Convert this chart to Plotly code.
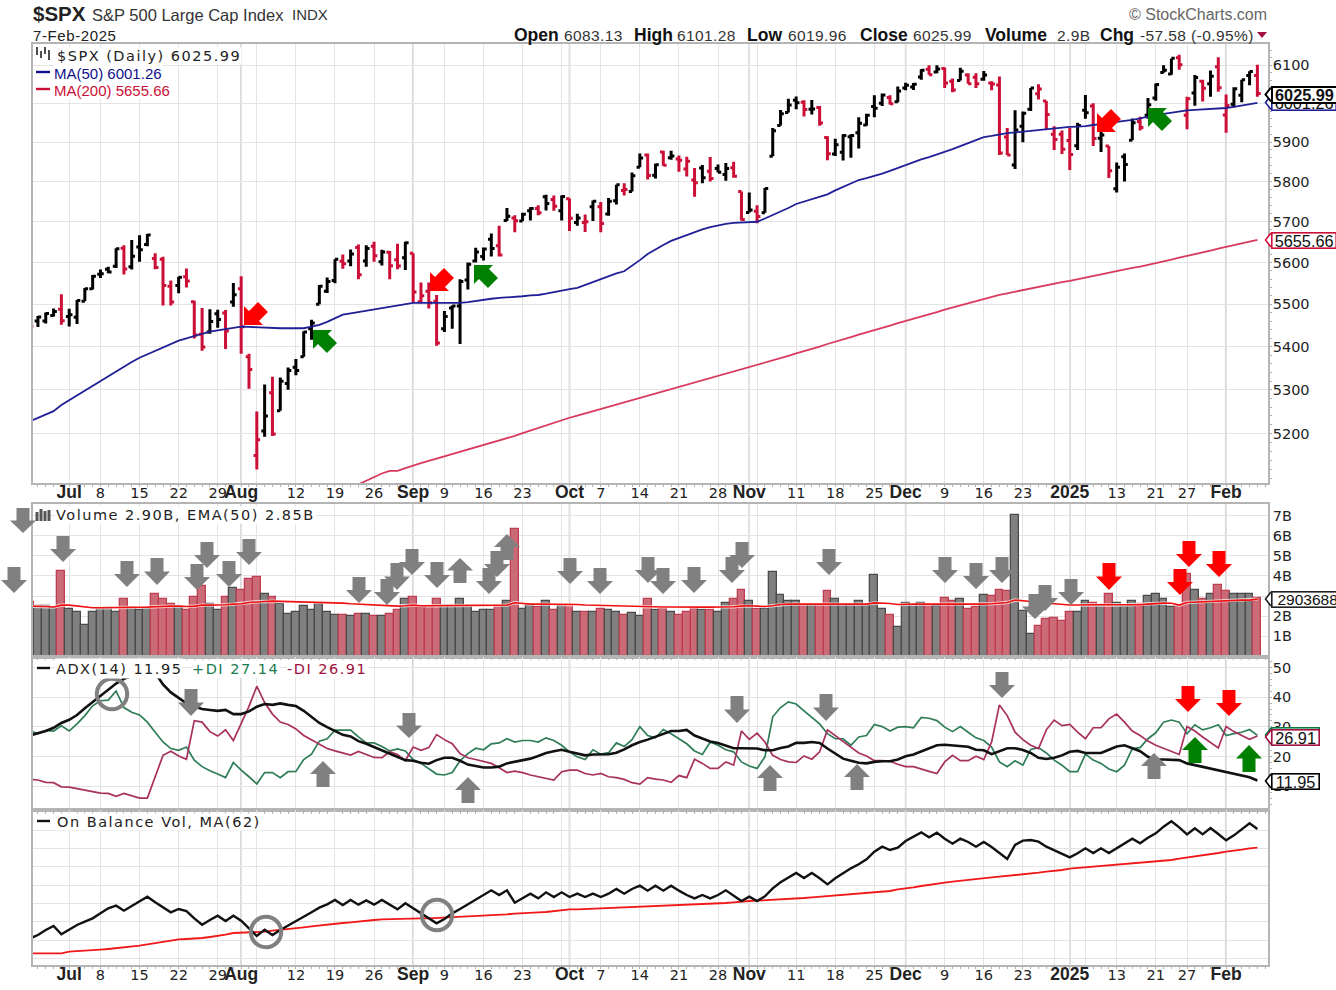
import plotly.graph_objects as go

W, H = 1336, 990
DAYS = list(range(-5, 153))

OPEN = [5459,5460,5460,5473,5488,5471,5469,5507,5537,5572,5584,5591,5635,5590,5638,5644,5610,5608,5543,5545,5566,5506,5429,5434,5477,5479,5505,5537,5376,5151,5206,5293,5252,5314,5352,5376,5442,5500,5531,5557,5603,5604,5637,5604,5640,5602,5625,5607,5612,5623,5506,5531,5507,5442,5491,5496,5558,5604,5615,5657,5641,5703,5709,5702,5727,5733,5762,5755,5727,5757,5698,5698,5737,5737,5719,5752,5778,5775,5836,5867,5816,5875,5860,5857,5832,5804,5834,5826,5833,5818,5835,5775,5723,5726,5722,5864,5943,5976,6008,6003,5985,5989,5912,5870,5874,5914,5924,5944,5992,6000,6015,6004,6040,6043,6069,6089,6082,6091,6058,6060,6074,6068,6063,6053,6048,5913,5842,5941,5985,6025,6006,5920,5920,5904,5891,5982,5993,5910,5890,5782,5863,5905,5953,5969,6014,6081,6077,6120,5969,6027,6058,6051,6096,5970,5998,6021,6073,6073]
HIGH = [5490,5472,5480,5490,5524,5489,5510,5539,5570,5583,5590,5635,5642,5655,5667,5670,5623,5614,5557,5566,5586,5508,5491,5488,5487,5486,5551,5567,5383,5250,5312,5330,5328,5351,5371,5436,5463,5546,5564,5608,5620,5632,5644,5642,5651,5631,5628,5646,5651,5623,5552,5552,5522,5484,5497,5560,5600,5636,5637,5671,5690,5734,5716,5722,5736,5741,5767,5765,5765,5758,5720,5718,5753,5749,5759,5792,5796,5823,5871,5871,5845,5878,5878,5866,5863,5834,5842,5862,5843,5847,5850,5775,5773,5741,5784,5936,5983,6012,6018,6008,6009,5993,5915,5909,5920,5920,5964,5973,6021,6026,6021,6044,6054,6053,6089,6100,6100,6094,6065,6093,6079,6079,6085,6058,6070,5936,5982,5979,6040,6050,6006,5941,5930,5936,5950,6022,6000,5928,5890,5848,5871,5961,5965,6014,6052,6100,6118,6128,6017,6074,6062,6086,6121,6023,6042,6062,6084,6101]
LOW = [5447,5446,5454,5471,5451,5447,5453,5507,5535,5563,5574,5587,5571,5583,5602,5640,5584,5497,5497,5526,5540,5419,5390,5430,5444,5394,5494,5383,5302,5120,5193,5195,5252,5300,5333,5376,5416,5500,5527,5550,5585,5591,5560,5590,5602,5593,5560,5584,5582,5504,5503,5490,5402,5434,5442,5406,5535,5600,5605,5615,5615,5702,5674,5702,5703,5716,5728,5727,5703,5677,5690,5675,5702,5674,5715,5743,5765,5775,5836,5805,5808,5840,5855,5825,5813,5762,5796,5800,5823,5802,5810,5703,5723,5696,5722,5864,5943,5976,5985,5966,5971,5942,5854,5865,5853,5860,5884,5942,5964,5993,5997,6003,6034,6035,6062,6075,6079,6040,6029,6060,6051,6040,6059,6034,5867,5867,5832,5900,5980,6010,5932,5880,5870,5829,5880,5960,5890,5875,5809,5773,5800,5905,5930,5960,6007,6080,6075,6088,5933,5994,6005,6017,6030,5924,5990,6003,6047,6017]
CLOSE = [5447.87,5469.30,5477.90,5482.87,5460.48,5475.09,5509.01,5537.02,5567.19,5572.85,5576.98,5633.91,5584.54,5615.35,5631.22,5667.20,5588.27,5544.59,5505.00,5564.41,5555.74,5427.13,5399.22,5459.10,5463.54,5436.44,5522.30,5446.68,5346.56,5186.33,5240.03,5199.50,5319.31,5344.16,5344.39,5434.43,5455.21,5543.22,5554.25,5608.25,5597.12,5620.85,5570.64,5634.61,5616.84,5625.80,5592.18,5591.96,5648.40,5528.93,5520.07,5503.41,5408.42,5471.05,5495.52,5554.13,5595.76,5626.02,5633.09,5634.58,5618.26,5713.64,5702.55,5718.57,5732.93,5722.26,5745.37,5738.17,5762.48,5708.75,5709.54,5699.94,5751.07,5695.94,5751.13,5792.04,5780.05,5815.03,5859.85,5815.26,5842.47,5841.47,5864.67,5853.98,5851.20,5797.42,5809.86,5808.12,5823.52,5832.92,5813.67,5705.45,5728.80,5712.69,5782.76,5929.04,5973.10,5995.54,6001.35,5983.99,5985.38,5949.17,5870.62,5893.62,5916.98,5917.11,5948.71,5969.34,5987.37,6021.63,5998.74,6032.38,6047.15,6049.88,6086.49,6075.11,6090.27,6052.85,6034.91,6084.19,6051.25,6051.09,6074.08,6050.61,5872.16,5867.08,5930.85,5974.07,6040.04,6037.59,5970.84,5906.94,5881.63,5868.55,5942.47,5975.38,5909.03,5918.25,5827.04,5836.22,5842.91,5949.91,5937.34,5996.66,6049.24,6086.37,6118.71,6101.24,6012.28,6067.70,6039.31,6071.17,6040.53,5994.57,6037.88,6061.48,6083.57,6025.99]
MA50 = [5228,5236,5243,5251,5265,5276,5287,5298,5310,5321,5332,5342,5353,5364,5374,5382,5390,5398,5406,5414,5419,5425,5430,5435,5438,5441,5444,5447,5446,5445,5444,5443,5443,5443,5443,5443,5447,5451,5458,5466,5475,5478,5481,5485,5488,5491,5494,5497,5500,5503,5503,5503,5503,5503,5503,5503,5505,5508,5510,5513,5515,5516,5518,5519,5521,5522,5525,5529,5532,5536,5539,5546,5553,5560,5567,5574,5579,5592,5606,5621,5633,5643,5653,5660,5668,5675,5681,5687,5691,5695,5697,5698,5699,5700,5708,5716,5724,5734,5744,5750,5755,5761,5768,5778,5787,5797,5804,5809,5814,5820,5827,5834,5843,5849,5856,5862,5868,5875,5882,5890,5897,5905,5913,5916,5920,5923,5925,5927,5929,5931,5933,5936,5938,5939,5940,5941,5944,5946,5949,5952,5954,5957,5961,5966,5970,5973,5976,5979,5982,5983,5984,5986,5987,5988,5991,5995,5998,6001.26]
MA200_DAYS = list(range(37, 153))
MA200 = [5087,5095,5103,5111,5117,5117,5123,5129,5134,5139,5144,5150,5155,5160,5164,5169,5174,5179,5184,5190,5195,5201,5207,5213,5219,5225,5230,5236,5241,5246,5251,5256,5261,5266,5271,5276,5281,5286,5291,5296,5301,5306,5311,5316,5321,5326,5331,5336,5341,5346,5351,5356,5362,5367,5373,5378,5384,5389,5395,5400,5406,5411,5417,5422,5428,5433,5439,5444,5449,5455,5460,5465,5471,5476,5481,5487,5492,5497,5503,5508,5513,5518,5522,5526,5530,5534,5538,5541,5545,5549,5553,5556,5560,5564,5568,5572,5576,5580,5584,5587,5590,5594,5598,5603,5607,5612,5616,5620,5625,5629,5634,5638,5642,5647,5651,5655.66]
VOLUME = [2.7,2.52,2.52,2.4,4.25,2.37,2.22,1.54,2.22,2.4,2.4,2.22,2.85,2.4,2.3,2.4,3.08,2.85,2.6,2.48,2.32,2.93,3.48,2.6,2.32,2.93,3.4,3.3,3.86,3.94,3.08,2.93,2.63,2.12,2.22,2.53,2.3,2.62,2.22,2.07,2.07,2.0,2.13,2.13,2.0,2.0,2.13,2.3,2.85,2.93,2.46,2.46,2.86,2.52,2.52,2.86,2.52,2.22,2.32,2.32,2.52,2.78,6.32,2.37,2.57,2.45,2.76,2.32,2.52,2.57,2.22,2.22,2.22,2.38,2.3,2.22,2.07,2.14,1.99,2.85,2.3,2.38,2.22,2.07,2.22,2.38,2.3,2.3,2.22,2.68,2.85,3.31,2.76,2.38,2.38,4.17,3.06,2.76,2.76,2.57,2.57,2.57,3.23,2.85,2.57,2.57,2.76,2.57,4.07,2.37,2.07,1.44,2.68,2.57,2.68,2.57,2.52,2.91,2.76,2.85,2.37,2.45,3.06,3.0,3.31,3.23,7.04,2.27,1.13,1.52,1.84,1.92,1.75,2.22,2.22,2.76,2.68,2.52,3.08,2.68,2.45,2.76,2.6,3.0,3.08,2.85,2.45,2.52,4.1,3.31,2.85,3.08,3.54,3.23,3.08,3.08,3.08,2.9]
EMA50 = [2.5,2.5,2.48,2.46,2.55,2.55,2.5,2.45,2.42,2.42,2.42,2.42,2.45,2.45,2.45,2.45,2.47,2.5,2.5,2.5,2.48,2.5,2.55,2.55,2.55,2.57,2.6,2.62,2.68,2.72,2.73,2.75,2.74,2.72,2.72,2.72,2.7,2.7,2.7,2.68,2.65,2.62,2.6,2.57,2.56,2.54,2.52,2.5,2.52,2.55,2.52,2.52,2.52,2.52,2.52,2.53,2.52,2.52,2.52,2.52,2.52,2.55,2.67,2.62,2.6,2.6,2.6,2.6,2.58,2.58,2.58,2.56,2.55,2.52,2.52,2.5,2.48,2.47,2.47,2.48,2.47,2.46,2.46,2.45,2.45,2.45,2.45,2.45,2.45,2.46,2.47,2.5,2.52,2.5,2.48,2.52,2.58,2.6,2.6,2.6,2.6,2.6,2.6,2.6,2.6,2.6,2.6,2.6,2.66,2.66,2.63,2.58,2.6,2.6,2.6,2.6,2.6,2.6,2.6,2.6,2.58,2.58,2.6,2.62,2.65,2.68,2.8,2.78,2.73,2.68,2.65,2.6,2.56,2.56,2.56,2.57,2.57,2.57,2.58,2.57,2.56,2.57,2.57,2.6,2.63,2.65,2.64,2.55,2.68,2.7,2.72,2.73,2.75,2.75,2.78,2.8,2.8,2.85]
ADX = [27.1,27.9,28.6,29.7,31.3,32.4,34.0,36.3,38.4,40.4,42.3,44.6,46.2,47.1,48.8,49.0,48.2,44.3,41.6,39.6,37.9,36.9,36.0,35.7,35.4,35.7,34.3,34.3,35.2,36.8,37.7,37.4,37.9,37.4,37.0,35.4,33.2,31.3,29.9,28.6,27.3,26.8,25.2,24.3,23.2,22.1,21.0,19.9,18.8,18.6,17.9,17.6,18.8,19.6,19.6,18.6,17.3,16.8,16.3,16.3,16.6,17.7,18.2,18.8,19.3,20.2,21.2,21.8,22.3,21.6,21.0,20.4,20.7,20.7,20.8,21.3,22.4,23.8,24.9,25.7,26.6,27.7,28.6,28.6,29.0,27.1,26.0,25.1,24.6,23.8,22.8,22.8,22.8,22.7,22.1,22.1,22.9,23.4,24.6,24.6,24.9,24.6,22.7,21.0,19.3,18.6,17.9,17.7,18.2,18.4,18.4,19.0,20.1,20.7,21.8,22.9,23.8,24.0,23.8,23.4,23.3,22.3,22.1,20.8,21.9,22.8,22.8,22.2,21.2,19.6,19.2,19.6,20.4,21.6,21.9,21.2,21.2,21.2,22.3,23.4,23.8,22.7,21.8,19.9,19.0,19.0,19.0,18.8,17.7,17.1,16.6,16.0,15.4,14.9,14.1,13.6,13.0,11.95]
PLUS_DI = [28.6,27.7,28.8,28.6,30.4,28.6,31.0,33.8,37.1,38.8,39.0,42.1,36.5,34.9,34.0,31.6,28.2,24.9,22.7,22.1,23.2,18.8,16.6,15.2,14.1,12.9,18.0,15.4,13.2,10.8,14.6,14.6,12.9,14.9,15.0,19.0,20.8,25.2,26.0,28.9,28.9,28.9,26.6,24.6,24.6,23.4,21.9,22.6,21.9,19.0,17.7,15.8,14.1,13.8,14.6,18.6,21.0,22.8,22.3,24.3,24.6,26.0,24.9,25.4,25.4,24.9,26.3,25.4,23.8,21.6,19.9,19.0,22.3,20.8,21.3,24.6,23.4,25.7,30.1,27.1,26.3,29.1,27.7,26.0,24.3,21.9,20.7,24.9,23.8,22.3,21.6,18.2,16.8,16.0,19.9,33.4,36.5,38.4,37.7,35.4,33.2,31.0,27.7,26.0,26.0,23.8,26.6,27.1,30.8,30.1,28.6,29.9,30.1,29.7,33.2,32.9,32.1,29.9,28.4,30.1,28.2,26.3,25.4,23.2,18.2,16.6,18.6,17.1,22.4,23.0,21.2,18.8,17.1,14.9,14.9,20.8,18.8,17.7,15.8,14.9,17.1,22.7,23.0,26.0,28.0,31.6,32.3,31.6,27.7,30.7,29.0,29.7,30.7,27.1,27.7,28.2,29.1,27.14]
MINUS_DI = [12.3,12.1,11.3,11.2,9.8,9.7,9.2,8.7,8.1,7.7,7.6,6.6,7.6,6.8,6.0,6.0,13.2,20.4,21.8,20.2,19.1,32.1,31.6,28.4,26.9,29.0,25.4,31.2,36.9,43.7,38.2,34.3,31.6,30.8,29.3,27.1,25.7,24.1,22.7,21.9,21.2,20.5,21.7,20.8,19.7,19.6,21.6,20.7,18.6,23.2,22.1,23.0,27.4,25.7,24.3,21.0,19.6,19.0,18.4,17.7,16.2,14.6,15.1,14.6,13.8,13.2,12.7,12.1,14.9,15.4,15.4,14.3,13.8,14.3,13.2,12.9,12.3,11.2,10.7,12.9,12.4,12.1,11.3,13.6,12.9,19.1,17.7,16.0,16.0,18.2,17.1,28.6,25.8,27.9,24.9,20.4,19.0,18.2,18.0,20.2,19.1,21.6,29.0,27.1,25.2,23.2,21.2,20.2,18.6,18.6,18.4,17.4,16.6,16.6,15.7,15.0,14.3,18.2,20.4,18.6,18.6,20.1,19.0,24.9,37.4,33.8,28.2,25.7,23.8,22.7,29.0,32.3,30.4,30.8,28.2,26.0,29.7,29.7,32.7,34.3,31.6,28.6,27.1,25.2,23.8,22.7,21.6,20.7,30.1,28.6,26.6,24.9,22.9,30.1,28.4,27.1,25.8,26.91]
OBV = [80,90,105,117,92,105,120,130,140,155,170,178,163,177,192,205,188,172,158,168,162,140,121,135,148,132,148,133,110,87,106,90,105,118,130,145,158,172,182,195,180,195,181,194,181,195,180,167,185,170,155,140,125,138,155,168,182,196,210,224,210,224,187,200,214,200,218,204,218,204,214,204,214,204,214,228,214,228,238,223,238,223,238,223,210,200,210,200,210,224,208,192,205,192,206,230,248,263,276,261,276,260,242,260,275,290,302,317,340,355,345,352,372,385,398,383,397,379,364,379,369,355,369,354,335,318,360,373,375,370,355,345,335,323,335,350,336,350,336,350,365,379,365,382,395,415,431,413,392,410,392,411,393,374,389,406,425,408]
OBV_MA = [35,35,35,35,35,40,41,42,44,46,48,50,52,55,58,62,66,70,74,77,78,79,81,84,87,91,96,97,98,98,100,103,105,108,110,113,116,119,121,124,126,128,131,133,135,137,138,138,139,140,140,140,141,143,144,146,147,148,148,148,150,152,154,156,157,158,159,162,165,167,167,168,169,170,171,172,172,172,173,175,176,177,178,180,181,182,183,184,185,186,188,191,192,193,194,196,197,198,200,201,203,205,208,209,210,212,214,216,218,221,222,227,229,233,237,241,245,247,250,253,256,259,261,263,265,267,270,273,275,277,280,282,285,289,291,293,294,296,298,299,302,304,306,308,310,312,315,319,322,325,328,331,336,340,342,346,350,352]

TICK_DAYS = [0,4,9,14,19,22,24,29,34,39,44,48,53,58,63,64,68,73,78,83,87,88,93,98,103,107,112,117,122,126,128,130,134,139,143,148]
TICK_TEXT = ["Jul","8","15","22","29","Aug","","12","19","26","Sep","9","16","23","","Oct","7","14","21","28","Nov","","11","18","25","Dec","9","16","23","","2025","","13","21","27","Feb"]
MONTH_DAYS = [22,44,64,87,107,128,148]
BOLD_DAYS = [0] + MONTH_DAYS
PRICE_TICKS = [5200,5300,5400,5500,5600,5700,5800,5900,6000,6100]
PRICE_MINOR = list(range(5100, 6150, 20))
VOL_TICKS = [1,2,3,4,5,6,7]
ADX_TICKS = [10,20,30,40,50]
ADX_MINOR = list(range(4, 54, 2))
OBV_GRID = [20,75,130,185,240,295,350,405]

BLACK, RED = "#000000", "#cc0f37"
GRID, MGRID, FRAME = "#e4e4e4", "#c4c4c4", "#b4b4b4"
NAVY = "#1f1f96"
GREEN_DI, MAROON_DI = "#2e7d56", "#a8305e"
FONT = "DejaVu Sans"
ARIAL = "Liberation Sans"

L, R = 33, 1268
PX0, PXD = 69.2, 7.817
xrange_ = [(L - PX0) / PXD, (R - PX0) / PXD]

def py(y):
    return 1 - y / H
def px(x):
    return x / W
def spaced(t, s):
    return f'<span style="letter-spacing:{s}px">{t}</span>'

up = [i > 0 and CLOSE[i] >= CLOSE[i - 1] for i in range(len(CLOSE))]

fig = go.Figure()

def ohlc(idx, color):
    fig.add_trace(go.Ohlc(
        x=[DAYS[i] for i in idx], open=[OPEN[i] for i in idx], high=[HIGH[i] for i in idx],
        low=[LOW[i] for i in idx], close=[CLOSE[i] for i in idx],
        increasing_line_color=color, decreasing_line_color=color, line_width=3, tickwidth=0.42,
        xaxis="x", yaxis="y", showlegend=False, hoverinfo="skip"))

ohlc([i for i in range(len(DAYS)) if up[i]], BLACK)
ohlc([i for i in range(len(DAYS)) if not up[i]], RED)
fig.add_trace(go.Scatter(x=DAYS, y=MA50, mode="lines", line=dict(color=NAVY, width=1.8), xaxis="x", yaxis="y", showlegend=False))
fig.add_trace(go.Scatter(x=MA200_DAYS, y=MA200, mode="lines", line=dict(color="#d93a5c", width=1.8), xaxis="x", yaxis="y", showlegend=False))

fig.add_trace(go.Bar(x=DAYS, y=VOLUME, width=1,
    marker=dict(color=["#808080" if u else "#cc6b78" for u in up],
                line=dict(color=["#4a4a4a" if u else "#bf3d50" for u in up], width=1.3)),
    xaxis="x2", yaxis="y2", showlegend=False))
fig.add_trace(go.Scatter(x=DAYS, y=EMA50, mode="lines", line=dict(color="rgba(255,255,255,0.7)", width=3.4), xaxis="x2", yaxis="y2", showlegend=False))
fig.add_trace(go.Scatter(x=DAYS, y=EMA50, mode="lines", line=dict(color="#f01010", width=1.6), xaxis="x2", yaxis="y2", showlegend=False))

fig.add_trace(go.Scatter(x=DAYS, y=PLUS_DI, mode="lines", line=dict(color=GREEN_DI, width=1.7), xaxis="x3", yaxis="y3", showlegend=False))
fig.add_trace(go.Scatter(x=DAYS, y=MINUS_DI, mode="lines", line=dict(color=MAROON_DI, width=1.7), xaxis="x3", yaxis="y3", showlegend=False))
fig.add_trace(go.Scatter(x=DAYS, y=ADX, mode="lines", line=dict(color="#111111", width=2.6), xaxis="x3", yaxis="y3", showlegend=False))

fig.add_trace(go.Scatter(x=DAYS, y=OBV_MA, mode="lines", line=dict(color="#f01818", width=1.9), xaxis="x4", yaxis="y4", showlegend=False))
fig.add_trace(go.Scatter(x=DAYS, y=OBV, mode="lines", line=dict(color="#111111", width=2.4), xaxis="x4", yaxis="y4", showlegend=False))

PANELS = [(44, 483), (504, 656.5), (656.5, 810), (810, 965)]
shapes, annos = [], []

def xaxis_cfg(n, labels):
    return dict(domain=[px(L), px(R)], range=xrange_, anchor="y" + ("" if n == 0 else str(n + 1)),
        tickmode="array", tickvals=TICK_DAYS, automargin=False, tickangle=0, ticklabelstandoff=-4,
        ticktext=[(f'<b><span style="font-family:{ARIAL};font-size:17.5px">{t}</span></b>' if (d in BOLD_DAYS) else t)
                  for d, t in zip(TICK_DAYS, TICK_TEXT)] if labels else [""] * len(TICK_DAYS),
        showticklabels=labels, tickfont=dict(family=FONT, size=14.5, color="#222222"),
        ticks="", showgrid=True, gridcolor=GRID, gridwidth=1.4, zeroline=False,
        showline=True, linecolor=FRAME, linewidth=1.6, mirror=True,
        rangeslider=dict(visible=False),
        minor=dict(ticks="outside", ticklen=2, tickcolor="#b0b0b0", dtick=1, tick0=0, showgrid=False))

def yaxis_cfg(n, **kw):
    top, bot = PANELS[n]
    d = dict(domain=[py(bot), py(top)], anchor="x" + ("" if n == 0 else str(n + 1)), side="right", automargin=False,
        tickfont=dict(family=FONT, size=14.5, color="#222222"), ticks="",
        showgrid=True, gridcolor=GRID, gridwidth=1.4, zeroline=False,
        showline=True, linecolor=FRAME, linewidth=1.6, mirror=True)
    d.update(kw)
    return d

def minor_ticks(vals):
    return dict(ticks="outside", ticklen=2, tickcolor="#b0b0b0", tickmode="array", tickvals=vals, showgrid=False)

layout = dict(
    width=W, height=H, margin=dict(l=0, r=0, t=0, b=0), autosize=False, plot_bgcolor="white", paper_bgcolor="white",
    bargap=0, showlegend=False,
    xaxis=xaxis_cfg(0, True), xaxis2=xaxis_cfg(1, False), xaxis3=xaxis_cfg(2, False), xaxis4=xaxis_cfg(3, True),
    yaxis=yaxis_cfg(0, type="log", range=[3.70672, 3.78932], tickmode="array", tickvals=PRICE_TICKS, ticktext=[str(v) for v in PRICE_TICKS], minor=minor_ticks(PRICE_MINOR)),
    yaxis2=yaxis_cfg(1, range=[0, 7.57], tickmode="array", tickvals=VOL_TICKS, ticktext=[f"{v}B" for v in VOL_TICKS]),
    yaxis3=yaxis_cfg(2, range=[2.0, 53.7], tickmode="array", tickvals=ADX_TICKS, minor=minor_ticks(ADX_MINOR)),
    yaxis4=yaxis_cfg(3, range=[0, 465], tickmode="array", tickvals=OBV_GRID, showticklabels=False),
)

for n, (top, bot) in enumerate(PANELS):
    xr = "x" + ("" if n == 0 else str(n + 1))
    for d in MONTH_DAYS:
        shapes.append(dict(type="line", xref=xr, x0=d, x1=d, yref="paper", y0=py(bot), y1=py(top),
                           line=dict(color=MGRID, width=1.6), layer="below"))

def poly(points, color, layer="above"):
    path = "M " + " L ".join(f"{px(x):.5f},{py(y):.5f}" for x, y in points) + " Z"
    shapes.append(dict(type="path", xref="paper", yref="paper", path=path, fillcolor=color, line=dict(width=0), layer=layer))

def block_arrow(cx, top, bot, color, up_=False):
    hw, sw = 13, 6.5
    mid = (top + bot) / 2
    if not up_:
        pts = [(cx - sw, top), (cx + sw, top), (cx + sw, mid), (cx + hw, mid), (cx, bot), (cx - hw, mid), (cx - sw, mid)]
    else:
        pts = [(cx - sw, bot), (cx + sw, bot), (cx + sw, mid), (cx + hw, mid), (cx, top), (cx - hw, mid), (cx - sw, mid)]
    poly(pts, color)

GRAY_A, RED_A, GREEN_A = "#808080", "#ff0000", "#008000"
DOWN_GRAY = [(23,508,533),(14,567,593),(63,536,562),(127,561,587),(157,558,585),(197,564,590),(207,542,568),(229,561,587),(249,539,565),
             (359,577,603),(387,579,605),(397,563,590),(412,549,575),(437,562,588),(489,568,594),(497,551,577),(570,558,584),(600,568,594),
             (648,557,583),(663,568,594),(694,567,593),(732,557,583),(742,542,568),(829,549,575),(945,557,583),(976,563,589),(1002,557,583),
             (1035,594,619),(1045,585,611),(1071,579,605),
             (191,689,716),(409,713,738),(737,696,723),(826,694,721),(1002,672,698)]
UP_GRAY = [(460,558,583),(507,534,560),(323,761,787),(468,777,803),(770,765,791),(857,764,790),(1154,753,779)]
DOWN_RED = [(1109,563,590),(1180,569,595),(1189,541,567),(1219,551,577),(1188,686,712),(1229,690,716)]
UP_GREEN = [(1195,737,763),(1249,745,772)]
for a in DOWN_GRAY: block_arrow(*a, GRAY_A)
for a in UP_GRAY: block_arrow(*a, GRAY_A, True)
for a in DOWN_RED: block_arrow(*a, RED_A)
for a in UP_GREEN: block_arrow(*a, GREEN_A, True)

DIAG = [(0,0),(19,0),(15,-4),(24,-13),(14,-23),(5,-14),(0,-19)]
for cx, cy in [(244,325),(430,291),(1097,132)]:
    poly([(cx + a, cy + b) for a, b in DIAG], RED_A)
for cx, cy in [(313,330),(474,265),(1148,108)]:
    poly([(cx + a, cy - b) for a, b in DIAG], GREEN_A)

for cx, cy in [(112,694),(266,932),(437,915)]:
    r = 15.2
    shapes.append(dict(type="circle", xref="paper", yref="paper", x0=px(cx - r), x1=px(cx + r), y0=py(cy + r), y1=py(cy - r),
                       line=dict(color="#808080", width=4), layer="above"))

def txt(x, y, text, size=14.5, color="#222222", family=FONT, anchor="left", bg=None, **kw):
    a = dict(xref="paper", yref="paper", x=px(x), y=py(y), text=text, showarrow=False, xanchor=anchor, yanchor="middle",
             font=dict(family=family, size=size, color=color), borderpad=0)
    if bg:
        a["bgcolor"] = bg
    a.update(kw)
    annos.append(a)

txt(32, 14, "<b>$SPX</b>", 20.5, "#222222", ARIAL)
txt(91, 14.5, "S&amp;P 500 Large Cap Index", 16.5, "#333333", ARIAL)
txt(291, 15, "INDX", 15, "#333333", ARIAL)
txt(32, 35, spaced("7-Feb-2025", 0.6), 15, "#222222", ARIAL)
txt(1268, 15, "© StockCharts.com", 16, "#666666", ARIAL, anchor="right")
HEADER = [("<b>Open</b>", 513), ("6083.13", 563), ("<b>High</b>", 633), ("6101.28", 676), ("<b>Low</b>", 746), ("6019.96", 787),
          ("<b>Close</b>", 859), ("6025.99", 912), ("<b>Volume</b>", 984), ("2.9B", 1056), ("<b>Chg</b>", 1099), ("-57.58 (-0.95%)", 1139)]
for t, x in HEADER:
    bold = t.startswith("<b>")
    txt(x, 35, t if bold else spaced(t, 0.4), 17.5 if bold else 15.5, "#111111" if bold else "#333333", ARIAL)
poly([(1257, 32), (1267, 32), (1262, 38)], "#a01040")

LS = 1.5
txt(56, 56, spaced("$SPX (Daily) 6025.99", LS), 14.5, "#222222", bg="white")
txt(53, 73, "MA(50) 6001.26", 15, "#10108c", family=ARIAL, bg="white")
txt(53, 90, "MA(200) 5655.66", 15, "#cc0f37", family=ARIAL, bg="white")
txt(55, 515, spaced("Volume 2.90B, EMA(50) 2.85B", LS), 14.5, "#222222", bg="white")
txt(55, 668.5, spaced("ADX(14) 11.95", LS), 14.5, "#222222", bg="white", height=19)
txt(191, 668.5, spaced("+DI 27.14", LS), 14.5, "#1a7a50", bg="white")
txt(286, 668.5, spaced("-DI 26.91", LS), 14.5, "#a01040", bg="white")
txt(56, 822, spaced("On Balance Vol, MA(62)", LS), 14.5, "#222222", bg="white")
for x0, x1, y, c in [(36,50,72,"#10108c"),(36,50,89,"#cc0f37"),(37,50,668,"#111111"),(37,50,821,"#111111")]:
    shapes.append(dict(type="line", xref="paper", yref="paper", x0=px(x0), x1=px(x1), y0=py(y), y1=py(y), line=dict(color=c, width=2.4), layer="above"))
for x, y0, y1 in [(37,47,55),(41,51,58),(45,47,54),(49,50,60)]:
    shapes.append(dict(type="line", xref="paper", yref="paper", x0=px(x), x1=px(x), y0=py(y1), y1=py(y0), line=dict(color="#222222", width=1.6), layer="above"))
for x, y0 in [(37,512),(41,509),(45,511),(49,510)]:
    shapes.append(dict(type="rect", xref="paper", yref="paper", x0=px(x - 1.5), x1=px(x + 1.5), y0=py(521), y1=py(y0), fillcolor="#555555", line=dict(width=0), layer="above"))

def tag(y, text, color, width=63, bold=False, size=16.3, tw=1.6):
    poly([(1265.5, y), (1271, y - 6), (1271, y + 6)], "white")
    shapes.append(dict(type="path", xref="paper", yref="paper", path=f"M {px(1271):.5f},{py(y-7):.5f} L {px(1265.5):.5f},{py(y):.5f} L {px(1271):.5f},{py(y+7):.5f}",
                       line=dict(color=color, width=tw), layer="above"))
    txt(1271, y, f"<b>{text}</b>" if bold else text, size, "#111111", ARIAL, bg="white", bordercolor=color, borderwidth=tw,
        width=width, height=14, align="center")

tag(102.5, "6001.26", "#1f1f96")
tag(240, "5655.66", "#cc0f37")
tag(94.5, "6025.99", "#000000", bold=True, tw=2)
tag(599, "2903688", "#222222", width=70, size=15.5)
tag(735, "27.14", "#0a7a40", width=46)
tag(737, "26.91", "#a01040", width=46)
tag(781, "11.95", "#000000", width=46)

layout["shapes"] = shapes
layout["annotations"] = annos
fig.update_layout(**layout)
fig.write_html("out.html", config=dict(displayModeBar=False),
               post_script="document.body.style.margin='0';document.body.style.overflow='hidden';")
